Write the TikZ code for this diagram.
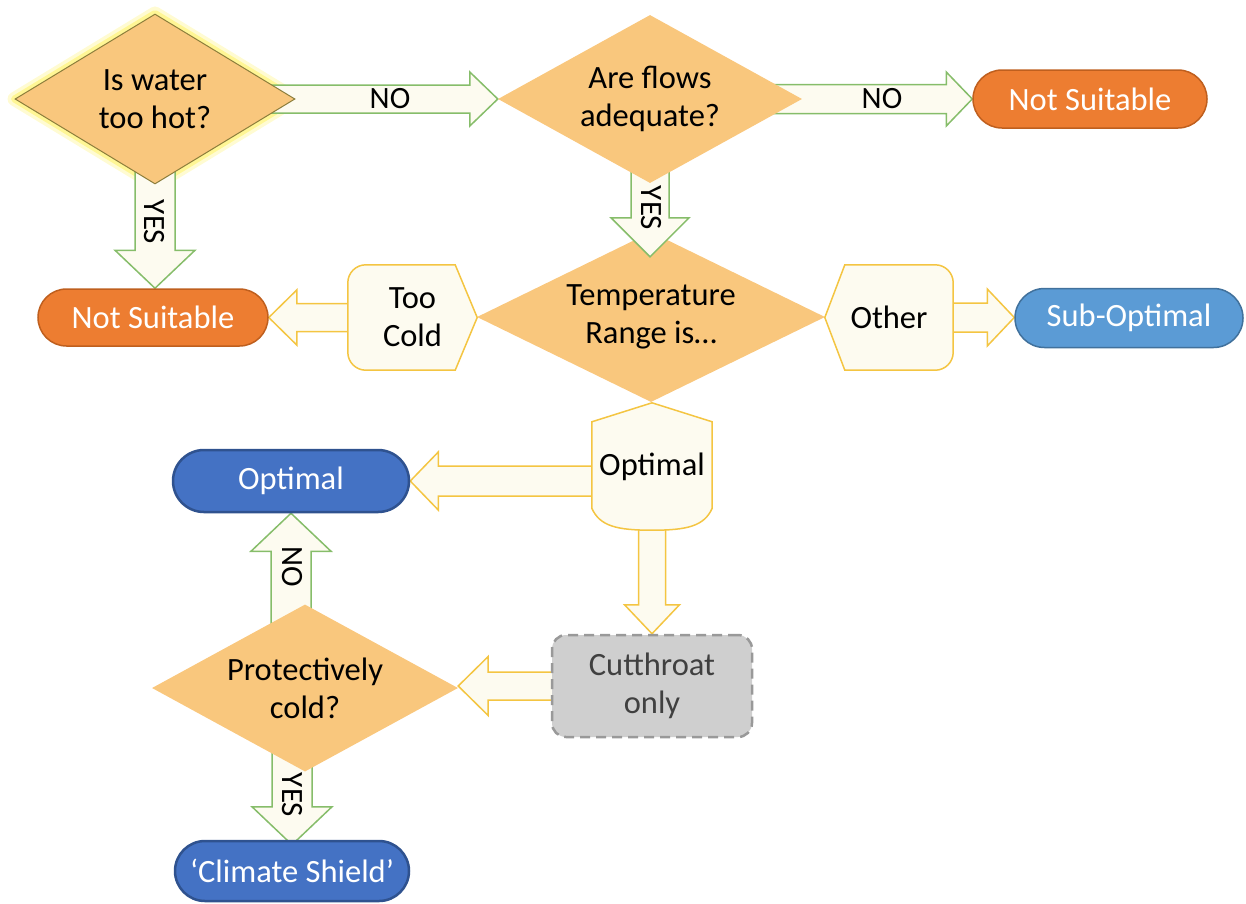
\documentclass[tikz,border=0pt]{standalone}
\usepackage{fontspec}
\setmainfont{Carlito}
\usetikzlibrary{shapes.geometric,shapes.misc,calc}
\pgfdeclarelayer{back}\pgfdeclarelayer{arrows}\pgfdeclarelayer{shapes}
\pgfsetlayers{back,arrows,shapes,main}
\definecolor{dfill}{HTML}{F9C77D}
\definecolor{dline}{HTML}{8C7E3C}
\definecolor{glowc}{HTML}{FFF04A}
\definecolor{afill}{HTML}{FDFBF0}
\definecolor{agreen}{HTML}{86BD6A}
\definecolor{agold}{HTML}{F4C542}
\definecolor{orng}{HTML}{ED7D31}
\definecolor{orngd}{HTML}{BF5F1E}
\definecolor{sblue}{HTML}{5B9BD5}
\definecolor{sblued}{HTML}{41719C}
\definecolor{dblue}{HTML}{4472C4}
\definecolor{dblued}{HTML}{2F528F}
\definecolor{gfill}{HTML}{CFCFCF}
\definecolor{gline}{HTML}{999999}
\definecolor{gtext}{HTML}{404040}
\newcommand\blockarrow[6]{%
 \draw[#6] let \p1=(#1), \p2=(#2), \n1={veclen(\x2-\x1,\y2-\y1)},
   \n2={(\x2-\x1)/\n1}, \n3={(\y2-\y1)/\n1} in
   ({\x1-#3*\n3},{\y1+#3*\n2})
   -- ({\x2-#5*\n2-#3*\n3},{\y2-#5*\n3+#3*\n2})
   -- ({\x2-#5*\n2-#4*\n3},{\y2-#5*\n3+#4*\n2})
   -- (\p2)
   -- ({\x2-#5*\n2+#4*\n3},{\y2-#5*\n3-#4*\n2})
   -- ({\x2-#5*\n2+#3*\n3},{\y2-#5*\n3-#3*\n2})
   -- ({\x1+#3*\n3},{\y1-#3*\n2}) -- cycle;}
\tikzset{
 base/.style={font=\fontsize{32.5}{38}\selectfont, align=center, inner sep=0pt, text=black},
 dia/.style={base, diamond, fill=dfill},
 term/.style={base, rounded rectangle, line width=1.5pt, text=white},
 nsuit/.style={term, fill=orng, draw=orngd},
 subopt/.style={term, fill=sblue, draw=sblued},
 optm/.style={term, fill=dblue, draw=dblued, line width=2.5pt},
 garrow/.style={fill=afill, draw=agreen, line width=1.5pt, line join=miter},
 yarrow/.style={fill=afill, draw=agold, line width=1.5pt, line join=miter},
 hexline/.style={fill=afill, draw=agold, line width=1.5pt},
 lbl/.style={font=\fontsize{31}{36}\selectfont, inner sep=0pt, text=black},
}
\begin{document}
\begin{tikzpicture}[x=1pt,y=-1pt]
\useasboundingbox (0,0) rectangle (1246,903);
% decision nodes
\node[dia, draw=dline, line width=1pt, aspect=1.65, minimum width=280pt, minimum height=170pt] (d1) at (155,99) {Is water\\too hot?};
\node[dia, aspect=1.81, minimum width=304pt, minimum height=168pt] (d2) at (650,99) {Are flows\\adequate?};
\begin{pgfonlayer}{back}
\node[dia, aspect=2.05, minimum width=348pt, minimum height=170pt] (temp) at (651,317) {Temperature\\Range is…};
\draw[glowc, line width=14pt, opacity=.25, line join=round] (d1.north) -- (d1.east) -- (d1.south) -- (d1.west) -- cycle;
\draw[glowc, line width=7pt, opacity=.45, line join=round] (d1.north) -- (d1.east) -- (d1.south) -- (d1.west) -- cycle;
\end{pgfonlayer}
\node[dia, aspect=1.83, minimum width=306pt, minimum height=167pt] (prot) at (305,688) {Protectively\\cold?};
% terminals
\node[nsuit, minimum width=234pt, minimum height=58pt] (ns1) at (1090,99) {Not Suitable};
\node[nsuit, minimum width=230pt, minimum height=57pt] (ns2) at (153,317.5) {Not Suitable};
\node[subopt, minimum width=228pt, minimum height=59pt] (sub) at (1129,318) {Sub-Optimal};
\node[optm, minimum width=236pt, minimum height=62pt] (opt) at (291,481) {Optimal};
\node[optm, minimum width=234pt, minimum height=60pt] (clim) at (292,871) {‘Climate Shield’};
\node[base, rectangle, rounded corners=14pt, fill=gfill, draw=gline, line width=2.5pt, dash pattern=on 10pt off 6pt, minimum width=200pt, minimum height=102pt, text=gtext] (cut) at (652,686) {Cutthroat\\only};
% range outcome shapes
\node[base, minimum width=129pt, minimum height=105pt] (cold) at (412.5,317.5) {Too\\Cold};
\node[base, minimum width=128pt, minimum height=105pt] (other) at (889,317.5) {Other};
\node[base, minimum width=120pt, minimum height=127pt] (optsh) at (652,466.5) {Optimal};
\begin{pgfonlayer}{shapes}
\draw[hexline] (cold.east) -- ($(cold.north east)+(-22,0)$) -- ($(cold.north west)+(18,0)$)
  arc[start angle=90, end angle=180, radius=18pt] -- ($(cold.south west)+(0,-18)$)
  arc[start angle=180, end angle=270, radius=18pt] -- ($(cold.south east)+(-22,0)$) -- cycle;
\draw[hexline] (other.west) -- ($(other.north west)+(20,0)$) -- ($(other.north east)+(-18,0)$)
  arc[start angle=90, end angle=0, radius=18pt] -- ($(other.south east)+(0,-18)$)
  arc[start angle=0, end angle=-90, radius=18pt] -- ($(other.south west)+(20,0)$) -- cycle;
\draw[hexline] (optsh.north) -- ($(optsh.north west)+(0,19)$) -- ($(optsh.south west)+(0,-22)$)
  .. controls ($(optsh.south west)+(8,-4)$) and ($(optsh.south)+(-35,0)$) .. (optsh.south)
  .. controls ($(optsh.south)+(35,0)$) and ($(optsh.south east)+(-8,-4)$) .. ($(optsh.south east)+(0,-22)$)
  -- ($(optsh.north east)+(0,19)$) -- cycle;
\end{pgfonlayer}
% connectors
\coordinate (t4) at ($(d2.center |- temp.north)+(0,25)$);
\coordinate (t11) at ($(clim.north)+(0,5)$);
\begin{pgfonlayer}{arrows}
\blockarrow{d1.center}{d2.west}{14}{27}{28}{garrow}
\blockarrow{d2.center}{ns1.west}{14.5}{27}{26}{garrow}
\blockarrow{d1.center}{d1.center |- ns2.north}{20}{40}{38}{garrow}
\blockarrow{d2.center}{t4}{19}{39}{39}{garrow}
\blockarrow{cold.center}{ns2.east}{14}{27.5}{28}{yarrow}
\blockarrow{other.center}{other.center -| sub.west}{14.5}{28.5}{27}{yarrow}
\blockarrow{optsh.center |- opt.east}{opt.east}{15}{29}{28}{yarrow}
\blockarrow{optsh.center}{optsh.center |- cut.north}{13.5}{27.5}{29}{yarrow}
\blockarrow{cut.center}{cut.center -| prot.east}{14}{29.5}{30}{yarrow}
\blockarrow{opt.south |- prot.center}{opt.south}{20}{40}{38}{garrow}
\blockarrow{t11 |- prot.center}{t11}{20}{40}{38}{garrow}
\end{pgfonlayer}
% labels
\node[lbl] (l1) at (390,99) {NO};
\node[lbl] (l2) at (882,99) {NO};
\node[lbl, rotate=-90] (l3) at (154,222) {YES};
\node[lbl, rotate=-90] (l4) at (651,208) {YES};
\node[lbl, rotate=-90] (l5) at (292,567) {NO};
\node[lbl, rotate=-90] (l6) at (292,795) {YES};
\end{tikzpicture}
\end{document}
